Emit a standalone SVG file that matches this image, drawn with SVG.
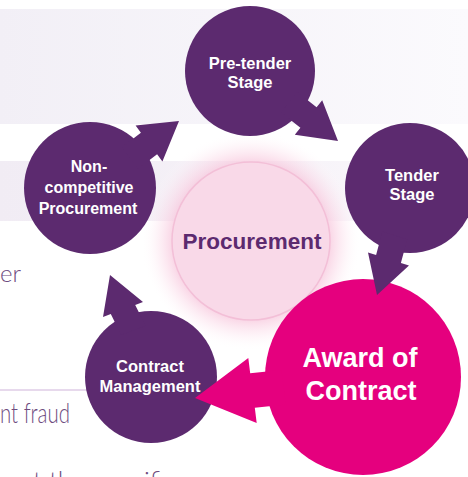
<svg xmlns="http://www.w3.org/2000/svg" width="468" height="477" viewBox="0 0 468 477">
  <defs>
    <linearGradient id="band1" x1="0" y1="0" x2="1" y2="0">
      <stop offset="0" stop-color="#f2eff6"/>
      <stop offset="1" stop-color="#fbfafd"/>
    </linearGradient>
    <linearGradient id="band2" x1="0" y1="0" x2="1" y2="0">
      <stop offset="0" stop-color="#f1ecf4"/>
      <stop offset="0.6" stop-color="#f6f2f8"/>
      <stop offset="1" stop-color="#fcfbfd"/>
    </linearGradient>
    <radialGradient id="glow" cx="0.5" cy="0.5" r="0.5">
      <stop offset="0" stop-color="#f7c6dc" stop-opacity="1"/>
      <stop offset="0.7" stop-color="#f7c6dc" stop-opacity="0.8"/>
      <stop offset="0.85" stop-color="#fbdbe9" stop-opacity="0.35"/>
      <stop offset="1" stop-color="#ffffff" stop-opacity="0"/>
    </radialGradient>
  </defs>
  <style>
    .purple { fill: #5c2a6f; }
    .pink { fill: #e5007e; }
    .lbl { font-family: "Liberation Sans", Arial, sans-serif; font-weight: bold; fill: #ffffff; text-anchor: middle; }
    .bg { font-family: Lato, "Liberation Sans", sans-serif; font-weight: 300; fill: #6e4c80; }
  </style>

  <!-- background -->
  <rect x="0" y="0" width="468" height="477" fill="#ffffff"/>
  <rect x="0" y="9" width="468" height="115" fill="url(#band1)"/>
  <rect x="0" y="161" width="468" height="60" fill="url(#band2)"/>
  <line x1="0" y1="390" x2="100" y2="390" stroke="#cfb3da" stroke-width="1"/>
  <text class="bg" x="0" y="282" font-size="24">er</text>
  <text class="bg" x="0" y="423" font-size="27" textLength="70" lengthAdjust="spacingAndGlyphs">nt fraud</text>
  <text class="bg" x="33" y="490" font-size="26">t the specifi</text>

  <!-- centre node -->
  <g id="procurement">
    <circle cx="251" cy="241" r="110" fill="url(#glow)"/>
    <circle cx="251" cy="241" r="79" fill="#f9d9e8" stroke="#f3bfd7" stroke-width="1.5"/>
    <text x="252" y="249" font-family="Liberation Sans, Arial, sans-serif" font-weight="bold" font-size="22.5" fill="#5c2a6f" text-anchor="middle">Procurement</text>
  </g>

  <g id="pre-tender">
    <circle class="purple" cx="250" cy="71" r="65"/>
    <text class="lbl" x="250" y="69" font-size="16.5">Pre-tender</text>
    <text class="lbl" x="250" y="88" font-size="16.5">Stage</text>
  </g>

  <g id="tender">
    <circle class="purple" cx="410" cy="188" r="65"/>
    <text class="lbl" x="412" y="181" font-size="16.5">Tender</text>
    <text class="lbl" x="412" y="200" font-size="16.5">Stage</text>
  </g>

  <g id="non-competitive">
    <circle class="purple" cx="90" cy="188" r="66"/>
    <text class="lbl" x="89" y="172" font-size="16">Non-</text>
    <text class="lbl" x="89" y="193" font-size="16">competitive</text>
    <text class="lbl" x="88" y="214" font-size="16">Procurement</text>
  </g>

  <g id="contract-management">
    <circle class="purple" cx="151" cy="377" r="66"/>
    <text class="lbl" x="150" y="372" font-size="16.5">Contract</text>
    <text class="lbl" x="150" y="392" font-size="16.5">Management</text>
  </g>

  <g id="award">
    <circle class="pink" cx="363" cy="377" r="98"/>
  </g>

  <!-- connectors -->
  <g id="connectors">
    <polygon class="purple" points="138.1,168.8 157.1,154.3 162.4,161.4 179,121 135.6,125.6 140.9,132.7 121.9,147.2"/>
    <polygon class="purple" points="281,112.4 300.4,127.7 294.8,134.7 338,141 322.2,100.3 316.6,107.3 297.2,92"/>
    <polygon class="purple" points="382.4,231.6 376.1,255 368,252.5 377,295 409,265.5 400.9,263 407.2,239.6"/>
    <polygon class="pink" points="281.4,370 250.2,373.2 248.3,358 195,398 256.7,423 254.8,407.8 286,404.6"/>
    <polygon class="purple" points="145.6,325.7 135.2,304.9 143,302 110,275 103,317 110.8,314.1 121.2,334.9"/>
  </g>

  <g id="award-label">
    <text class="lbl" x="360" y="367" font-size="27">Award of</text>
    <text class="lbl" x="361" y="400" font-size="27">Contract</text>
  </g>
</svg>
